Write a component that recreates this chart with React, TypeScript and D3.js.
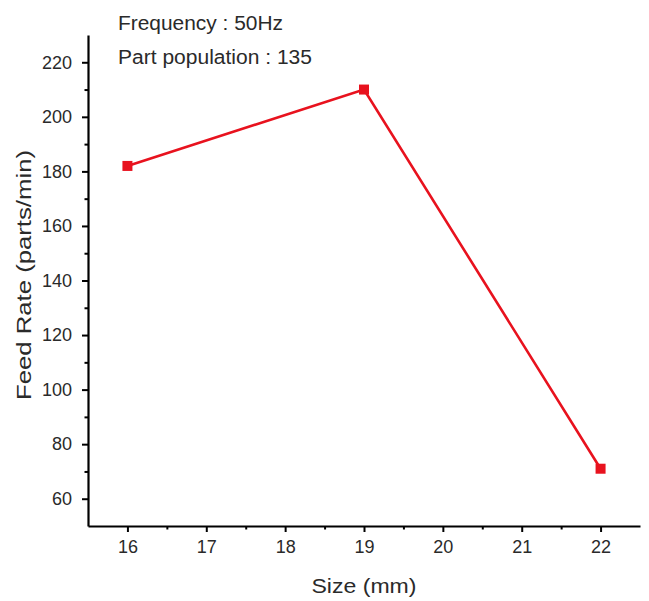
import React, { useEffect, useRef } from "react";
import * as d3 from "d3";

const sizes = [16, 19, 22];
const feedRates = [182, 210, 71];
const xTicks = [16, 17, 18, 19, 20, 21, 22];
const xMinorTicks = [16.5, 17.5, 18.5, 19.5, 20.5, 21.5];
const yTicks = [60, 80, 100, 120, 140, 160, 180, 200, 220];
const yMinorTicks = [70, 90, 110, 130, 150, 170, 190, 210];
const annotations = ["Frequency : 50Hz", "Part population : 135"];
const xTitle = "Size (mm)";
const yTitle = "Feed Rate (parts/min)";

const W = 649;
const H = 601;
const RED = "#e8121e";
const TXT = "#2a2a2a";

export default function App() {
  const ref = useRef<SVGSVGElement>(null);

  useEffect(() => {
    const svg = d3.select(ref.current);
    svg.selectAll("*").remove();

    const x = d3.scaleLinear().domain([15.5, 22.5]).range([88, 640]);
    const y = d3.scaleLinear().domain([50, 230]).range([526, 35]);
    const x0 = x.range()[0];
    const y0 = y.range()[0];

    // X axis major
    const gx = svg.append("g").attr("transform", `translate(0,${y0})`);
    gx.call(
      d3.axisBottom(x).tickValues(xTicks).tickSizeInner(6).tickSizeOuter(0).tickPadding(8).tickFormat(d3.format("d"))
    );
    gx.select(".domain").attr("stroke", "#000").attr("stroke-width", 2.2);
    gx.selectAll(".tick line").attr("stroke", "#000").attr("stroke-width", 2);
    gx.selectAll(".tick text")
      .attr("fill", TXT)
      .attr("font-size", 18)
      .attr("font-family", "Liberation Sans, Arial, sans-serif");
    // X minor
    const gxm = svg.append("g").attr("transform", `translate(0,${y0})`);
    gxm.call(d3.axisBottom(x).tickValues(xMinorTicks).tickSizeInner(3.5).tickSizeOuter(0).tickFormat(() => ""));
    gxm.select(".domain").remove();
    gxm.selectAll(".tick line").attr("stroke", "#000").attr("stroke-width", 2);

    // Y axis major
    const gy = svg.append("g").attr("transform", `translate(${x0},0)`);
    gy.call(d3.axisLeft(y).tickValues(yTicks).tickSizeInner(6).tickSizeOuter(0).tickPadding(10));
    gy.select(".domain").attr("stroke", "#000").attr("stroke-width", 2.2);
    gy.selectAll(".tick line").attr("stroke", "#000").attr("stroke-width", 2);
    gy.selectAll(".tick text")
      .attr("fill", TXT)
      .attr("font-size", 18)
      .attr("font-family", "Liberation Sans, Arial, sans-serif");
    // Y minor
    const gym = svg.append("g").attr("transform", `translate(${x0},0)`);
    gym.call(d3.axisLeft(y).tickValues(yMinorTicks).tickSizeInner(3.5).tickSizeOuter(0).tickFormat(() => ""));
    gym.select(".domain").remove();
    gym.selectAll(".tick line").attr("stroke", "#000").attr("stroke-width", 2);

    // Line
    const pts = sizes.map((s, i) => [s, feedRates[i]] as [number, number]);
    const line = d3
      .line<[number, number]>()
      .x((d) => x(d[0]))
      .y((d) => y(d[1]));
    svg
      .append("path")
      .datum(pts)
      .attr("d", line)
      .attr("fill", "none")
      .attr("stroke", RED)
      .attr("stroke-width", 2.6);

    // Markers
    const ms = 10;
    svg
      .selectAll("rect.marker")
      .data(pts)
      .enter()
      .append("rect")
      .attr("class", "marker")
      .attr("x", (d) => x(d[0]) - ms / 2)
      .attr("y", (d) => y(d[1]) - ms / 2)
      .attr("width", ms)
      .attr("height", ms)
      .attr("fill", RED);

    // Titles
    svg
      .append("text")
      .attr("x", 364)
      .attr("y", 593)
      .attr("text-anchor", "middle")
      .attr("font-size", 21)
      .attr("font-family", "Liberation Sans, Arial, sans-serif")
      .attr("fill", TXT)
      .attr("textLength", 105)
      .attr("lengthAdjust", "spacingAndGlyphs")
      .text(xTitle);

    svg
      .append("text")
      .attr("transform", `translate(31,275) rotate(-90)`)
      .attr("text-anchor", "middle")
      .attr("font-size", 21)
      .attr("font-family", "Liberation Sans, Arial, sans-serif")
      .attr("fill", TXT)
      .attr("textLength", 250)
      .attr("lengthAdjust", "spacingAndGlyphs")
      .text(yTitle);

    // Annotations
    const annY = [30, 64];
    const annLen = [165, 194];
    annotations.forEach((t, i) => {
      svg
        .append("text")
        .attr("x", 118)
        .attr("y", annY[i])
        .attr("font-size", 20)
        .attr("font-family", "Liberation Sans, Arial, sans-serif")
        .attr("fill", TXT)
        .attr("textLength", annLen[i])
        .attr("lengthAdjust", "spacingAndGlyphs")
        .text(t);
    });
  }, []);

  return (
    <svg
      ref={ref}
      width={W}
      height={H}
      style={{ position: "absolute", left: 0, top: 0, background: "#fff" }}
    />
  );
}
